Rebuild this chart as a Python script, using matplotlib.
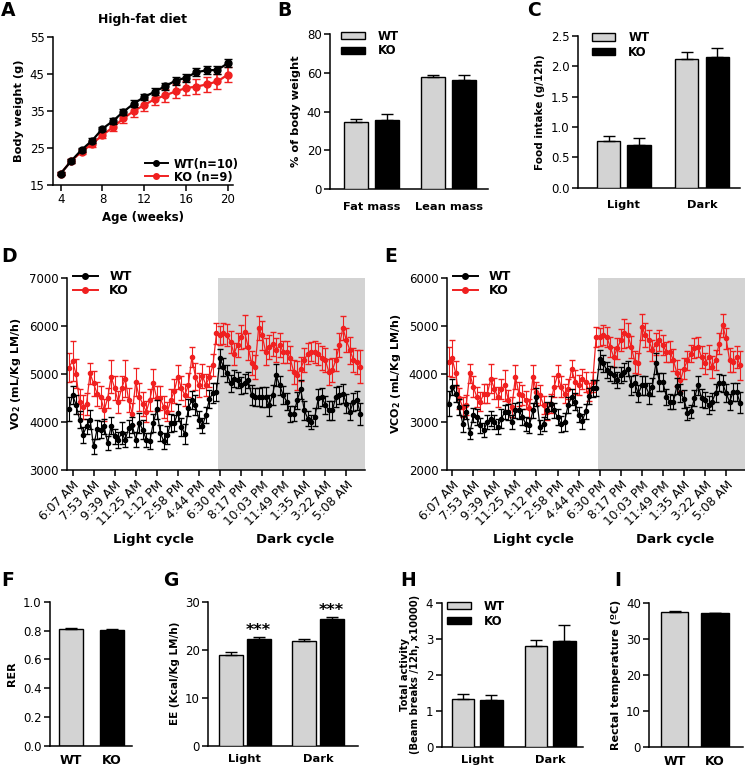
import matplotlib
matplotlib.use('Agg')
import matplotlib.pyplot as plt
from matplotlib.lines import Line2D
import numpy as np

plt.rcParams['font.family'] = ['DejaVu Sans']
plt.rcParams['font.size'] = 8.5
plt.rcParams['axes.linewidth'] = 1.1
plt.rcParams['xtick.major.width'] = 1.1
plt.rcParams['ytick.major.width'] = 1.1
plt.rcParams['xtick.major.size'] = 4
plt.rcParams['ytick.major.size'] = 4

W, H = 745, 770
GREY = '#d3d3d3'
RED = '#f02020'

# --- A: масса тела ---
weeks = list(range(4, 21))
bw_wt = [18.1, 21.5, 24.5, 27.0, 30.2, 32.3, 34.8, 37.0, 38.8, 40.2, 41.7, 43.2, 44.0, 45.5, 46.0, 46.1, 47.9]
bw_wt_err = [0.4, 0.5, 0.5, 0.6, 0.6, 0.7, 0.8, 0.9, 0.9, 0.9, 1.0, 1.1, 1.1, 1.1, 1.1, 1.1, 1.1]
bw_ko = [18.1, 21.5, 24.0, 26.1, 28.5, 30.6, 33.0, 35.0, 36.6, 38.2, 39.2, 40.3, 41.2, 41.6, 42.2, 43.0, 44.8]
bw_ko_err = [0.4, 0.6, 0.7, 0.8, 0.9, 1.1, 1.3, 1.5, 1.6, 1.7, 1.8, 1.9, 2.0, 2.0, 2.0, 2.1, 2.0]

# --- B: состав тела ---
comp_labels = ['Fat mass', 'Lean mass']
comp_wt = [34.8, 57.8]
comp_wt_err = [1.3, 1.2]
comp_ko = [35.7, 56.2]
comp_ko_err = [3.0, 2.5]

# --- C: потребление пищи ---
cycle_labels = ['Light', 'Dark']
food_wt = [0.76, 2.11]
food_wt_err = [0.09, 0.13]
food_ko = [0.71, 2.15]
food_ko_err = [0.10, 0.14]

# --- D, E: VO2 / VCO2 по времени ---
time_ticks = ['6:07 AM', '7:53 AM', '9:39 AM', '11:25 AM', '1:12 PM', '2:58 PM', '4:44 PM',
              '6:30 PM', '8:17 PM', '10:03 PM', '11:49 PM', '1:35 AM', '3:22 AM', '5:08 AM']

vo2_ko = [5130, 5270, 5000, 4420, 4310, 4380, 5010, 4800, 4590, 4520, 4240, 4490,
          4940, 4700, 4420, 4700, 4900, 4450, 4170, 4830, 4520, 4380, 4210, 4450,
          4800, 4490, 4490, 4310, 4210, 4450, 4650, 4940, 4700, 4560, 4770, 5350,
          4940, 4770, 4950, 4770, 4940, 5180, 5840, 5800, 5840, 5800, 5670, 5420,
          5600, 5770, 5880, 5560, 5220, 5150, 5950, 5800, 5460, 5560, 5630, 5490,
          5600, 5460, 5460, 5320, 5040, 4970, 5110, 5290, 5420, 5460, 5460, 5420,
          5320, 5290, 5040, 5080, 5290, 5600, 5950, 5700, 5490, 5290, 5250, 5150]
vo2_ko_err = [300, 410, 300, 260, 240, 230, 220, 260, 250, 220, 230, 210,
              340, 250, 230, 250, 380, 250, 230, 300, 300, 250, 220, 230,
              300, 260, 250, 220, 200, 230, 250, 250, 250, 230, 250, 200,
              280, 250, 250, 230, 220, 230, 220, 200, 220, 230, 230, 230,
              250, 250, 350, 280, 250, 250, 250, 300, 280, 250, 250, 250,
              250, 230, 230, 250, 250, 300, 250, 250, 220, 200, 230, 230,
              250, 250, 270, 250, 230, 250, 250, 250, 280, 250, 250, 350]
vo2_wt = [4260, 4560, 4360, 4050, 3730, 3910, 4050, 3490, 3850, 3840, 3910, 3560,
          3920, 3700, 3630, 3770, 3630, 3870, 3940, 3630, 3980, 3840, 3630, 3600,
          3980, 4260, 3770, 3600, 3730, 3980, 3980, 4190, 3900, 3750, 4300, 4450,
          4350, 4050, 3920, 4150, 4480, 4600, 4630, 5320, 5150, 5010, 4800, 4900,
          4870, 4760, 4800, 4870, 4560, 4520, 4520, 4520, 4520, 4350, 4560, 4970,
          4760, 4560, 4420, 4170, 4170, 4450, 4680, 4240, 4070, 4000, 4100, 4490,
          4520, 4350, 4240, 4240, 4520, 4560, 4590, 4380, 4210, 4420, 4450, 4170]
vo2_wt_err = [250, 180, 200, 180, 170, 160, 190, 150, 200, 170, 160, 150,
              180, 160, 170, 230, 160, 180, 170, 160, 200, 190, 150, 160,
              180, 200, 170, 160, 190, 180, 170, 180, 190, 200, 180, 190,
              200, 180, 160, 170, 190, 200, 190, 200, 190, 180, 170, 180,
              170, 180, 190, 170, 200, 190, 180, 200, 210, 220, 200, 230,
              200, 190, 180, 170, 160, 180, 200, 190, 150, 150, 180, 200,
              190, 180, 200, 190, 200, 180, 190, 200, 180, 190, 200, 230]

vco2_ko = [4250, 4320, 4010, 3490, 3310, 3350, 4010, 3730, 3520, 3420, 3590, 3590,
           3900, 3690, 3520, 3690, 3760, 3450, 3310, 3940, 3590, 3560, 3450, 3280,
           3940, 3620, 3560, 3350, 3210, 3380, 3730, 3970, 3730, 3590, 3690, 4110,
           3830, 3760, 3900, 3830, 3620, 3830, 4770, 4770, 4810, 4770, 4560, 4350,
           4530, 4700, 4840, 4810, 4560, 4250, 4220, 4980, 4810, 4700, 4490, 4630,
           4700, 4600, 4460, 4460, 4280, 4010, 3870, 4110, 4280, 4420, 4530, 4560,
           4350, 4220, 4350, 4150, 4280, 4630, 5010, 4740, 4280, 4250, 4350, 4180]
vco2_ko_err = [300, 380, 260, 220, 200, 200, 200, 220, 210, 200, 200, 190,
               300, 220, 200, 210, 330, 210, 200, 250, 250, 210, 190, 200,
               250, 220, 210, 190, 180, 200, 220, 220, 220, 200, 210, 180,
               240, 210, 210, 200, 190, 200, 210, 190, 200, 210, 200, 210,
               220, 230, 300, 250, 220, 230, 220, 270, 250, 220, 220, 230,
               220, 210, 210, 220, 230, 270, 230, 220, 200, 180, 210, 210,
               220, 220, 240, 230, 210, 220, 240, 220, 250, 220, 220, 300]
vco2_wt = [3380, 3730, 3590, 3310, 2960, 3210, 2760, 3140, 3100, 2930, 2830, 3000,
           3070, 3000, 2900, 3070, 3210, 3210, 3000, 3240, 3240, 3100, 2960, 2930,
           3240, 3520, 2900, 2960, 3240, 3380, 3240, 3100, 2960, 3000, 3350, 3520,
           3420, 3150, 3010, 3220, 3540, 3700, 3700, 4300, 4220, 4080, 4010, 3970,
           3870, 3970, 4040, 4110, 3760, 3800, 3590, 3760, 3760, 3590, 3730, 4220,
           3830, 3830, 3520, 3420, 3420, 3750, 3600, 3480, 3180, 3220, 3500, 3760,
           3500, 3450, 3350, 3420, 3600, 3820, 3800, 3600, 3420, 3620, 3620, 3400]
vco2_wt_err = [260, 170, 180, 170, 160, 150, 120, 150, 170, 150, 140, 150,
               160, 150, 160, 200, 150, 160, 150, 150, 180, 170, 140, 150,
               160, 180, 150, 150, 170, 160, 150, 160, 170, 180, 160, 170,
               180, 160, 150, 160, 170, 180, 170, 190, 180, 170, 160, 170,
               160, 170, 180, 160, 190, 180, 170, 190, 200, 210, 190, 220,
               190, 180, 170, 160, 150, 170, 190, 180, 140, 140, 170, 190,
               180, 170, 190, 180, 190, 170, 180, 190, 170, 180, 190, 220]

# --- F-I ---
rer_groups = ['WT', 'KO']
rer = [0.813, 0.806]
rer_err = [0.004, 0.004]

ee_wt = [19.0, 21.8]
ee_wt_err = [0.5, 0.5]
ee_ko = [22.2, 26.3]
ee_ko_err = [0.5, 0.6]

act_wt = [1.33, 2.80]
act_wt_err = [0.13, 0.16]
act_ko = [1.30, 2.93]
act_ko_err = [0.15, 0.46]

temp = [37.5, 37.1]
temp_err = [0.1, 0.1]

fig = plt.figure(figsize=(W / 100, H / 100), dpi=100)


def px_axes(l, t, r, b):
    ax = fig.add_axes([l / W, 1 - b / H, (r - l) / W, (b - t) / H])
    ax.spines['top'].set_visible(False)
    ax.spines['right'].set_visible(False)
    ax.tick_params(direction='out', labelsize=8.5, pad=2)
    return ax


def grouped_bars(ax, wt, wt_err, ko, ko_err, labels, width, offset):
    x = np.arange(len(labels))
    ax.bar(x - offset, wt, width, color=GREY, edgecolor='black', linewidth=1,
           yerr=[np.zeros(len(wt)), wt_err], capsize=4,
           error_kw=dict(elinewidth=1, capthick=1), label='WT', zorder=3)
    ax.bar(x + offset, ko, width, color='black', edgecolor='black', linewidth=1,
           yerr=[np.zeros(len(ko)), ko_err], capsize=4,
           error_kw=dict(elinewidth=1, capthick=1), label='KO', zorder=3)
    ax.set_xticks(x)
    ax.set_xticklabels(labels, fontweight='bold', fontsize=8.2)
    ax.tick_params(axis='x', length=0, pad=9)


def bar_legend(ax, anchor):
    ax.legend(loc='upper left', bbox_to_anchor=anchor, frameon=False,
              borderpad=0, borderaxespad=0,
              handlelength=2.0, handleheight=0.6, handletextpad=1.1,
              labelspacing=0.15, prop={'weight': 'bold', 'size': 8.5})


def line_legend(ax, colors, labels, loc, anchor, size, textpad, spacing=0.1):
    handles = [Line2D([], [], color=c, marker='o', ms=4, lw=1.4) for c in colors]
    ax.legend(handles, labels, loc=loc, bbox_to_anchor=anchor, frameon=False,
              borderpad=0, borderaxespad=0, handlelength=2.0,
              handletextpad=textpad, labelspacing=spacing,
              prop={'weight': 'bold', 'size': size})


def panel_letter(x, y, s):
    fig.text(x / W, 1 - y / H, s, fontsize=13.5, fontweight='bold', va='center', ha='left')


# A
axA = px_axes(53, 37, 233, 185)
axA.errorbar(weeks, bw_wt, yerr=bw_wt_err, color='black', marker='o', ms=5,
             lw=1.6, capsize=3, elinewidth=1.2, zorder=3)
axA.errorbar(weeks, bw_ko, yerr=bw_ko_err, color=RED, marker='o', ms=5,
             lw=1.6, capsize=3, elinewidth=1.2, zorder=2)
axA.set_xlim(3.26, 20.5)
axA.set_ylim(15, 55)
axA.set_xticks([4, 8, 12, 16, 20])
axA.set_yticks([15, 25, 35, 45, 55])
axA.set_xlabel('Age (weeks)', fontweight='bold', fontsize=8.5, labelpad=3)
axA.set_ylabel('Body weight (g)', fontweight='bold', fontsize=8.2)
axA.set_title('High-fat diet', fontweight='bold', fontsize=9, pad=10)
line_legend(axA, ['black', RED], ['WT(n=10)', 'KO (n=9)'], 'lower left',
            (0.51, 0.01), 8.3, 0.5, spacing=0.0)
panel_letter(1, 11, 'A')

# B
axB = px_axes(330, 34.3, 488, 189)
grouped_bars(axB, comp_wt, comp_wt_err, comp_ko, comp_ko_err, comp_labels, 0.31, 0.198)
axB.set_xlim(-0.534, 1.508)
axB.set_ylim(0, 80)
axB.set_yticks([0, 20, 40, 60, 80])
axB.set_ylabel('% of body weight', fontweight='bold', fontsize=8.2)
bar_legend(axB, (0.07, 1.03))
panel_letter(277, 11, 'B')

# C
axC = px_axes(578, 35.7, 740, 187.7)
grouped_bars(axC, food_wt, food_wt_err, food_ko, food_ko_err, cycle_labels, 0.30, 0.196)
axC.set_xlim(-0.588, 1.487)
axC.set_ylim(0, 2.5)
axC.set_yticks([0, 0.5, 1.0, 1.5, 2.0, 2.5])
axC.set_yticklabels(['0.0', '0.5', '1.0', '1.5', '2.0', '2.5'])
axC.set_ylabel('Food intake (g/12h)', fontweight='bold', fontsize=7.5)
bar_legend(axC, (0.085, 1.03))
panel_letter(527, 11, 'C')


def time_panel(ax, wt, wt_err, ko, ko_err, ylim, ylabel):
    idx = np.arange(len(wt))
    ax.axvspan(42.4, 85, color=GREY, lw=0, zorder=0)
    ax.errorbar(idx, ko, yerr=ko_err, color=RED, marker='o', ms=3, lw=0.9,
                capsize=2.2, elinewidth=0.8, zorder=2)
    ax.errorbar(idx, wt, yerr=wt_err, color='black', marker='o', ms=3, lw=0.9,
                capsize=2.2, elinewidth=0.8, zorder=3)
    ax.set_xlim(-0.57, 84.3)
    ax.set_ylim(*ylim)
    ax.set_yticks(np.arange(ylim[0], ylim[1] + 1, 1000))
    ax.set_xticks(np.arange(1, 84, 6))
    ax.set_xticklabels(time_ticks, rotation=45, ha='right', rotation_mode='anchor', fontsize=8.8)
    ax.set_ylabel(ylabel, fontweight='bold', fontsize=8)
    line_legend(ax, ['black', RED], ['WT', 'KO'], 'upper left', (0.02, 1.04), 9, 0.9)


# D
axD = px_axes(67, 277.7, 365, 470)
time_panel(axD, vo2_wt, vo2_wt_err, vo2_ko, vo2_ko_err, (3000, 7000), 'VO$_\\mathbf{2}$ (mL/Kg LM/h)')
panel_letter(1, 257, 'D')
fig.text(153 / W, 1 - 539 / H, 'Light cycle', fontweight='bold', fontsize=9.5, ha='center', va='center')
fig.text(295 / W, 1 - 539 / H, 'Dark cycle', fontweight='bold', fontsize=9.5, ha='center', va='center')

# E
axE = px_axes(446.7, 277.7, 744.7, 470)
time_panel(axE, vco2_wt, vco2_wt_err, vco2_ko, vco2_ko_err, (2000, 6000), 'VCO$_\\mathbf{2}$ (mL/Kg LM/h)')
panel_letter(384, 257, 'E')
fig.text(533 / W, 1 - 539 / H, 'Light cycle', fontweight='bold', fontsize=9.5, ha='center', va='center')
fig.text(675 / W, 1 - 539 / H, 'Dark cycle', fontweight='bold', fontsize=9.5, ha='center', va='center')

# F
axF = px_axes(50, 601.7, 131.7, 745.7)
axF.bar([0, 1], rer, 0.57, color=[GREY, 'black'], edgecolor='black', linewidth=1,
        yerr=[[0, 0], rer_err], capsize=4, error_kw=dict(elinewidth=1, capthick=1))
axF.set_xlim(-0.512, 1.48)
axF.set_ylim(0, 1.0)
axF.set_yticks([0, 0.2, 0.4, 0.6, 0.8, 1.0])
axF.set_yticklabels(['0.0', '0.2', '0.4', '0.6', '0.8', '1.0'])
axF.set_xticks([0, 1])
axF.set_xticklabels(rer_groups, fontweight='bold', fontsize=9)
axF.tick_params(axis='x', length=0, pad=6)
axF.set_ylabel('RER', fontweight='bold', fontsize=8)
panel_letter(1, 580, 'F')

# G
axG = px_axes(208.3, 601.7, 358, 745.7)
grouped_bars(axG, ee_wt, ee_wt_err, ee_ko, ee_ko_err, cycle_labels, 0.33, 0.19)
axG.set_xlim(-0.50, 1.55)
axG.set_ylim(0, 30)
axG.set_yticks([0, 10, 20, 30])
axG.set_ylabel('EE (Kcal/Kg LM/h)', fontweight='bold', fontsize=7.5)
axG.tick_params(axis='x', pad=6)
for i, (v, e) in enumerate(zip(ee_ko, ee_ko_err)):
    axG.text(i + 0.19, v + e + 0.4, '***', ha='center', va='baseline', fontsize=11.5, fontweight='bold')
panel_letter(163, 580, 'G')

# H
axH = px_axes(441.7, 602.7, 583, 746.7)
grouped_bars(axH, act_wt, act_wt_err, act_ko, act_ko_err, cycle_labels, 0.31, 0.195)
axH.set_xlim(-0.488, 1.45)
axH.set_ylim(0, 4)
axH.set_yticks([0, 1, 2, 3, 4])
axH.set_ylabel('Total activity\n(Beam breaks /12h, x10000)', fontweight='bold', fontsize=7.2,
               linespacing=1.1)
axH.tick_params(axis='x', pad=6)
bar_legend(axH, (0.04, 1.02))
panel_letter(400, 580, 'H')

# I
axI = px_axes(649.3, 602.7, 743, 746.7)
axI.bar([0, 1], temp, 0.68, color=[GREY, 'black'], edgecolor='black', linewidth=1,
        yerr=[[0, 0], temp_err], capsize=4, error_kw=dict(elinewidth=1, capthick=1))
axI.set_xlim(-0.627, 1.70)
axI.set_ylim(0, 40)
axI.set_yticks([0, 10, 20, 30, 40])
axI.set_xticks([0, 1])
axI.set_xticklabels(rer_groups, fontweight='bold', fontsize=9)
axI.tick_params(axis='x', length=0, pad=6)
axI.set_ylabel('Rectal temperature (ºC)', fontweight='bold', fontsize=8)
panel_letter(614, 580, 'I')

fig.savefig('out.png', dpi=100)
